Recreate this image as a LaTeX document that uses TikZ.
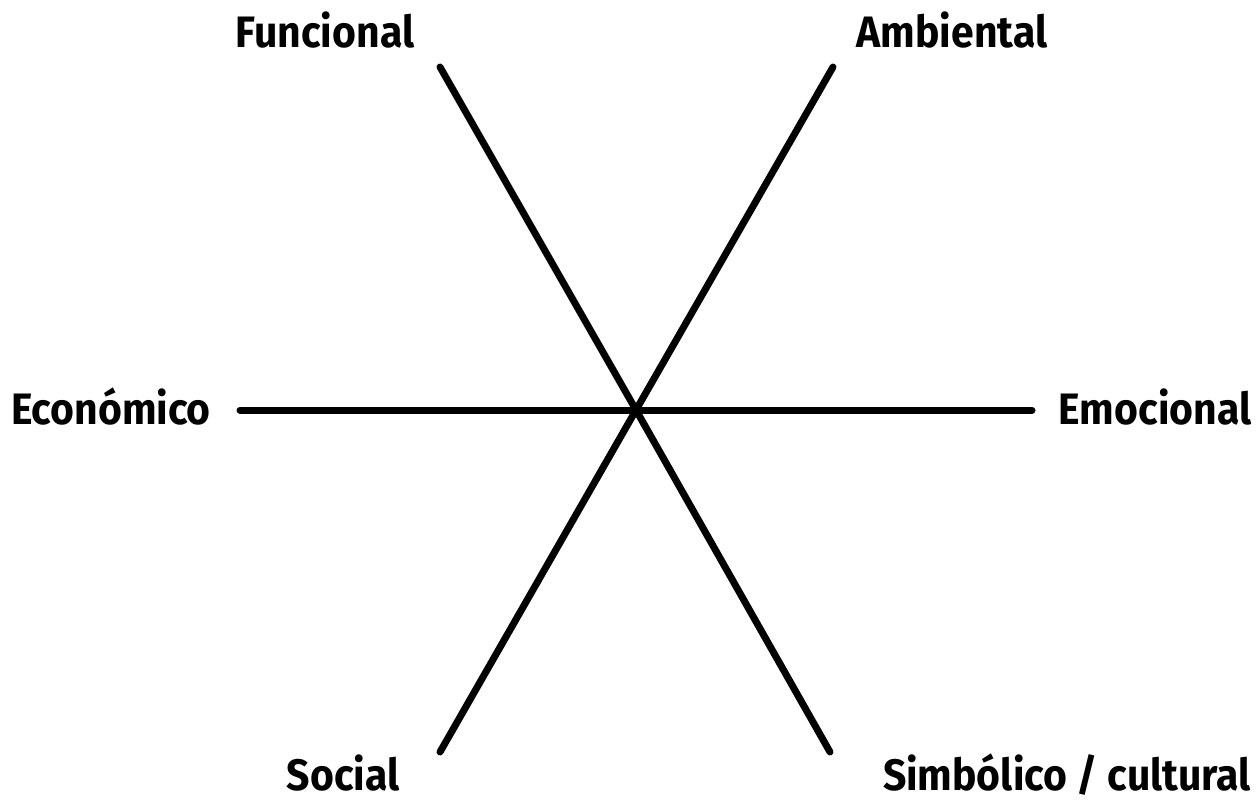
\documentclass[tikz,border=0pt]{standalone}
\usepackage{fontspec}
\setmainfont{Fira Sans}[FakeStretch=0.93]
\begin{document}
\begin{tikzpicture}[x=1pt,y=-1pt,
  lbl/.style={font=\fontsize{44}{50}\selectfont\bfseries, anchor=base, inner sep=0pt},
  axis/.style={line width=7pt, line cap=round}]
\useasboundingbox[fill=white] (0,0) rectangle (1258,801);
\coordinate (c) at (636,410);
\coordinate (pF) at (440,67);
\coordinate (pA) at (833,67);
\coordinate (pE) at (240,410);
\coordinate (pM) at (1032,410);
\coordinate (pS) at (440,752);
\coordinate (pC) at (830,752);
\node[lbl] (funcional) at (325,47) {Funcional};
\node[lbl] (ambiental) at (952,47) {Ambiental};
\node[lbl] (economico) at (111,424) {Económico};
\node[lbl] (emocional) at (1155,424) {Emocional};
\node[lbl] (social) at (343,790) {Social};
\node[lbl] (simbolico) at (1067,790) {Simbólico / cultural};
\draw[axis] (pF) -- (c) -- (pC);
\draw[axis] (pA) -- (c) -- (pS);
\draw[axis] (pE) -- (c) -- (pM);
\end{tikzpicture}
\end{document}
